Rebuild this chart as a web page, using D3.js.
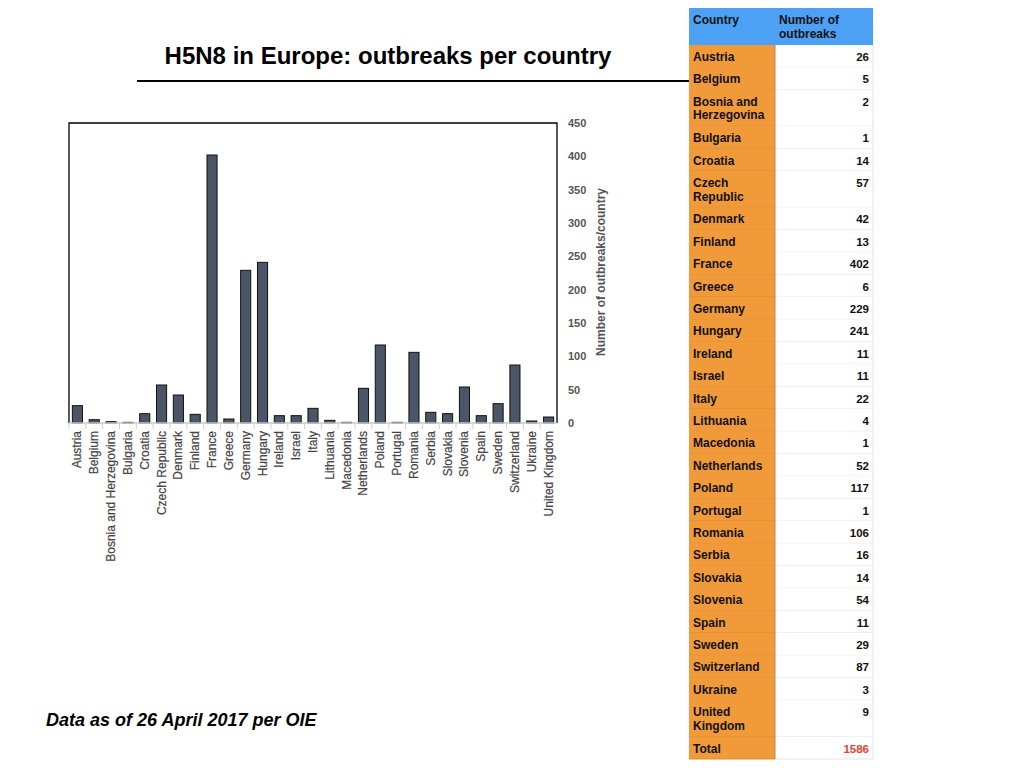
<!DOCTYPE html>
<html>
<head>
<meta charset="utf-8">
<script src="https://cdn.jsdelivr.net/npm/d3@7"></script>
<style>
  body { margin: 0; background: #fff; }
  svg { font-family: "Liberation Sans", Arial, Helvetica, sans-serif; }
</style>
</head>
<body>
<svg id="chart" width="1024" height="768"></svg>
<script>
// data
var countries = ["Austria", "Belgium", "Bosnia and Herzegovina", "Bulgaria", "Croatia",
  "Czech Republic", "Denmark", "Finland", "France", "Greece", "Germany", "Hungary",
  "Ireland", "Israel", "Italy", "Lithuania", "Macedonia", "Netherlands", "Poland",
  "Portugal", "Romania", "Serbia", "Slovakia", "Slovenia", "Spain", "Sweden",
  "Switzerland", "Ukraine", "United Kingdom"];
var outbreaks = [26, 5, 2, 1, 14, 57, 42, 13, 402, 6, 229, 241, 11, 11, 22, 4, 1, 52,
  117, 1, 106, 16, 14, 54, 11, 29, 87, 3, 9];
var yTicks = [0, 50, 100, 150, 200, 250, 300, 350, 400, 450];
var totalLabel = "Total";
var totalValue = 1586;

var svg = d3.select("#chart");

// title
svg.append("text")
  .attr("x", 388).attr("y", 64)
  .attr("text-anchor", "middle")
  .style("font-size", "24px").style("font-weight", "bold")
  .text("H5N8 in Europe: outbreaks per country");
svg.append("line")
  .attr("x1", 137).attr("x2", 690).attr("y1", 81).attr("y2", 81)
  .attr("stroke", "#000").attr("stroke-width", 2);

// footer
svg.append("text")
  .attr("x", 46).attr("y", 726)
  .style("font-size", "18px").style("font-weight", "bold").style("font-style", "italic")
  .text("Data as of 26 April 2017 per OIE");

// bar chart
var plot = {left: 69, right: 557, top: 123, bottom: 423};

var x = d3.scaleBand()
  .domain(countries)
  .range([plot.left, plot.right])
  .paddingInner(0.4).paddingOuter(0.2);

var y = d3.scaleLinear()
  .domain([0, 450])
  .range([plot.bottom, plot.top]);

var g = svg.append("g");

// frame: top, left, right black
g.append("path")
  .attr("d", "M" + plot.left + "," + plot.bottom + "V" + plot.top + "H" + plot.right + "V" + plot.bottom)
  .attr("fill", "none").attr("stroke", "#000").attr("stroke-width", 1.3);

g.selectAll("rect.bar")
  .data(countries)
  .enter()
  .append("rect")
  .attr("class", "bar")
  .attr("x", function(d) { return x(d); })
  .attr("y", function(d, i) { return y(outbreaks[i]); })
  .attr("width", x.bandwidth())
  .attr("height", function(d, i) { return plot.bottom - y(outbreaks[i]); })
  .attr("fill", "#4b5568")
  .attr("stroke", "#111")
  .attr("stroke-width", 1);

// bottom axis: light grey baseline and ticks between bands
var step = x.step();
var xAxisG = g.append("g");
xAxisG.append("line")
  .attr("x1", plot.left).attr("x2", plot.right)
  .attr("y1", plot.bottom).attr("y2", plot.bottom)
  .attr("stroke", "#c8c8c8").attr("stroke-width", 1.3);
xAxisG.selectAll("line.sep")
  .data(countries)
  .enter()
  .append("line")
  .attr("class", "sep")
  .attr("x1", function(d) { return x(d) - step * 0.2; })
  .attr("x2", function(d) { return x(d) - step * 0.2; })
  .attr("y1", plot.bottom).attr("y2", plot.bottom + 6)
  .attr("stroke", "#d0d0d0");

xAxisG.selectAll("text.xl")
  .data(countries)
  .enter()
  .append("text")
  .attr("class", "xl")
  .attr("transform", function(d) {
    return "translate(" + (x(d) + x.bandwidth() / 2 + 4) + "," + (plot.bottom + 8) + ") rotate(-90)";
  })
  .attr("text-anchor", "end")
  .style("font-size", "12px")
  .style("fill", "#444")
  .style("stroke", "#444").style("stroke-width", 0.2)
  .text(function(d) { return d; });

// right axis labels
var yAxisG = g.append("g")
  .attr("transform", "translate(" + (plot.right + 11) + ",0)");
yAxisG.selectAll("text")
  .data(yTicks)
  .enter()
  .append("text")
  .attr("x", 0)
  .attr("y", function(d) { return y(d) + 4; })
  .style("font-size", "11px").style("font-weight", "bold")
  .style("fill", "#555")
  .text(function(d) { return d; });

svg.append("text")
  .attr("transform", "translate(605,272) rotate(-90)")
  .attr("text-anchor", "middle")
  .style("font-size", "12px").style("font-weight", "bold")
  .style("fill", "#555")
  .text("Number of outbreaks/country");

// table
var tbl = {x: 689, split: 775, right: 873, top: 8, header: 37, row: 22.4, extra: 14};
var tg = svg.append("g");

// header
tg.append("rect")
  .attr("x", tbl.x).attr("y", tbl.top)
  .attr("width", tbl.right - tbl.x).attr("height", tbl.header)
  .attr("fill", "#4ca1f4");
tg.append("text")
  .attr("x", tbl.x + 4).attr("y", tbl.top + 16)
  .style("font-size", "12px").style("font-weight", "bold").style("fill", "#111")
  .text("Country");
tg.append("text")
  .attr("x", tbl.split + 4).attr("y", tbl.top + 16)
  .style("font-size", "12px").style("font-weight", "bold").style("fill", "#111")
  .selectAll("tspan")
  .data(["Number of", "outbreaks"])
  .enter()
  .append("tspan")
  .attr("x", tbl.split + 4)
  .attr("dy", function(d, i) { return i ? 13.7 : 0; })
  .text(function(d) { return d; });

// wrap a label into lines that fit the first column
var measure = svg.append("text")
  .style("font-size", "12px").style("font-weight", "bold")
  .attr("visibility", "hidden");
function wrap(label, maxW) {
  var words = label.split(" "), lines = [], cur = "";
  words.forEach(function(w) {
    var test = cur ? cur + " " + w : w;
    measure.text(test);
    if (measure.node().getComputedTextLength() > maxW && cur) {
      lines.push(cur);
      cur = w;
    } else {
      cur = test;
    }
  });
  lines.push(cur);
  return lines;
}

var rows = countries.map(function(c, i) {
  return {lines: wrap(c, 78), value: outbreaks[i], total: false};
});
rows.push({lines: [totalLabel], value: totalValue, total: true});
measure.remove();

var yPos = tbl.top + tbl.header;
rows.forEach(function(r) {
  r.y = yPos;
  r.h = tbl.row + (r.lines.length - 1) * tbl.extra;
  yPos += r.h;
});

var rowG = tg.selectAll("g.row")
  .data(rows)
  .enter()
  .append("g")
  .attr("class", "row")
  .attr("transform", function(d) { return "translate(0," + d.y + ")"; });

rowG.append("rect")
  .attr("x", tbl.x).attr("y", 0)
  .attr("width", tbl.split - tbl.x)
  .attr("height", function(d) { return d.h; })
  .attr("fill", "#f19a3a");
rowG.append("rect")
  .attr("x", tbl.split).attr("y", 0)
  .attr("width", tbl.right - tbl.split)
  .attr("height", function(d) { return d.h; })
  .attr("fill", "#fff");
// row borders
rowG.append("line")
  .attr("x1", tbl.x).attr("x2", tbl.split)
  .attr("y1", function(d) { return d.h; }).attr("y2", function(d) { return d.h; })
  .attr("stroke", "#e08a30").attr("stroke-width", 1);
rowG.append("line")
  .attr("x1", tbl.split).attr("x2", tbl.right)
  .attr("y1", function(d) { return d.h; }).attr("y2", function(d) { return d.h; })
  .attr("stroke", "#e4e4e4").attr("stroke-width", 1);

rowG.append("text")
  .attr("y", 16)
  .style("font-size", "12px").style("font-weight", "bold").style("fill", "#111")
  .selectAll("tspan")
  .data(function(d) { return d.lines; })
  .enter()
  .append("tspan")
  .attr("x", tbl.x + 4)
  .attr("dy", function(d, i) { return i ? 13.7 : 0; })
  .text(function(d) { return d; });

rowG.append("text")
  .attr("x", tbl.right - 4).attr("y", 16)
  .attr("text-anchor", "end")
  .style("font-size", "11.5px").style("font-weight", "bold")
  .style("fill", function(d) { return d.total ? "#e0452f" : "#111"; })
  .text(function(d) { return d.value; });

// column separator and outer border
tg.append("line")
  .attr("x1", tbl.split).attr("x2", tbl.split)
  .attr("y1", tbl.top + tbl.header).attr("y2", yPos)
  .attr("stroke", "#b88a5a").attr("stroke-width", 1);
tg.append("line")
  .attr("x1", tbl.right).attr("x2", tbl.right)
  .attr("y1", tbl.top + tbl.header).attr("y2", yPos)
  .attr("stroke", "#e4e4e4").attr("stroke-width", 1);
</script>
</body>
</html>
